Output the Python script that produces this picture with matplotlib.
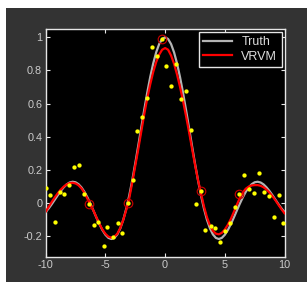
import matplotlib
matplotlib.use("Agg")
import matplotlib.pyplot as plt
from matplotlib.patches import Rectangle

plt.rcParams['font.family'] = ['Liberation Sans', 'DejaVu Sans']
plt.rcParams['axes.unicode_minus'] = False

# grid of curve samples (x from -10 to 10, step 0.25)
curve_x = [-10.0, -9.75, -9.5, -9.25, -9.0, -8.75, -8.5, -8.25, -8.0, -7.75,
           -7.5, -7.25, -7.0, -6.75, -6.5, -6.25, -6.0, -5.75, -5.5, -5.25,
           -5.0, -4.75, -4.5, -4.25, -4.0, -3.75, -3.5, -3.25, -3.0, -2.75,
           -2.5, -2.25, -2.0, -1.75, -1.5, -1.25, -1.0, -0.75, -0.5, -0.25,
           0.0, 0.25, 0.5, 0.75, 1.0, 1.25, 1.5, 1.75, 2.0, 2.25,
           2.5, 2.75, 3.0, 3.25, 3.5, 3.75, 4.0, 4.25, 4.5, 4.75,
           5.0, 5.25, 5.5, 5.75, 6.0, 6.25, 6.5, 6.75, 7.0, 7.25,
           7.5, 7.75, 8.0, 8.25, 8.5, 8.75, 9.0, 9.25, 9.5, 9.75, 10.0]

truth_y = [-0.0544, -0.0328, -0.0079, 0.0188, 0.0458, 0.0714, 0.0939, 0.1119, 0.1237, 0.1283,
           0.1251, 0.1135, 0.0939, 0.0667, 0.0331, -0.0053, -0.0466, -0.0884, -0.1283, -0.1636,
           -0.1918, -0.2104, -0.2172, -0.2106, -0.1892, -0.1524, -0.1002, -0.0333, 0.0470, 0.1388,
           0.2394, 0.3458, 0.4546, 0.5623, 0.6650, 0.7592, 0.8415, 0.9089, 0.9589, 0.9896,
           1.0, 0.9896, 0.9589, 0.9089, 0.8415, 0.7592, 0.6650, 0.5623, 0.4546, 0.3458,
           0.2394, 0.1388, 0.0470, -0.0333, -0.1002, -0.1524, -0.1892, -0.2106, -0.2172, -0.2104,
           -0.1918, -0.1636, -0.1283, -0.0884, -0.0466, -0.0053, 0.0331, 0.0667, 0.0939, 0.1135,
           0.1251, 0.1283, 0.1237, 0.1119, 0.0939, 0.0714, 0.0458, 0.0188, -0.0079, -0.0328, -0.0544]

vrvm_y = [-0.052, -0.023, 0.006, 0.033, 0.058, 0.080, 0.098, 0.112, 0.120, 0.122,
          0.118, 0.107, 0.088, 0.060, 0.025, -0.012, -0.046, -0.087, -0.126, -0.160,
          -0.186, -0.203, -0.209, -0.204, -0.185, -0.150, -0.100, -0.040, 0.030, 0.125,
          0.225, 0.325, 0.430, 0.535, 0.630, 0.715, 0.790, 0.850, 0.895, 0.925,
          0.935, 0.925, 0.890, 0.840, 0.775, 0.700, 0.615, 0.525, 0.430, 0.330,
          0.232, 0.140, 0.060, -0.020, -0.085, -0.135, -0.168, -0.185, -0.189, -0.180,
          -0.160, -0.132, -0.097, -0.055, -0.012, 0.030, 0.062, 0.086, 0.099, 0.106,
          0.108, 0.108, 0.104, 0.095, 0.080, 0.062, 0.040, 0.015, -0.012, -0.038, -0.062]

# noisy training data
data_x = [-9.95, -9.65, -9.26, -8.81, -8.43, -8.03, -7.59, -7.20, -6.80, -6.36,
          -5.97, -5.58, -5.16, -4.85, -4.38, -3.96, -3.57, -3.10, -2.73, -2.34,
          -1.90, -1.51, -1.09, -0.67, -0.25, 0.11, 0.53, 0.92, 1.34, 1.76,
          2.15, 2.59, 2.98, 3.37, 3.82, 4.21, 4.63, 5.02, 5.41, 5.83,
          6.22, 6.64, 7.06, 7.45, 7.89, 8.28, 8.68, 9.10, 9.51, 9.90]
data_y = [0.089, 0.050, -0.116, 0.064, 0.052, 0.108, 0.219, 0.229, 0.052, -0.008,
          -0.133, -0.113, -0.257, -0.142, -0.207, -0.122, -0.183, 0.000, 0.139, 0.436,
          0.518, 0.631, 0.940, 0.890, 0.988, 0.827, 0.703, 0.837, 0.628, 0.675,
          0.442, -0.004, 0.070, -0.161, -0.137, -0.153, -0.233, -0.169, -0.119, -0.024,
          0.054, 0.169, 0.082, 0.060, 0.179, 0.068, 0.044, -0.086, 0.050, -0.120]

# relevance vectors
rv_x = [-6.36, -3.10, -0.25, 2.98, 6.22]
rv_y = [-0.008, 0.000, 0.988, 0.070, 0.054]

xticks = [-10, -5, 0, 5, 10]
xtick_labels = ['-10', '-5', '0', '5', '10']
yticks = [-0.2, 0, 0.2, 0.4, 0.6, 0.8, 1]
ytick_labels = ['-0.2', '0', '0.2', '0.4', '0.6', '0.8', '1']

fig = plt.figure(figsize=(3.07, 2.82), dpi=100, facecolor='white')
bg = Rectangle((0.0195, 0.0), 0.9805, 0.9716, transform=fig.transFigure,
               facecolor='#333333', edgecolor='none', zorder=-10)
fig.patches.append(bg)
ax = fig.add_axes([0.1489, 0.0897, 0.7779, 0.8075])
ax.set_zorder(1)
ax.set_facecolor('black')

ax.plot(curve_x, truth_y, color='#b4b4b4', lw=1.6, label='Truth', zorder=2)
ax.plot(curve_x, vrvm_y, color='#ff0000', lw=1.6, label='VRVM', zorder=3)
ax.plot(data_x, data_y, 'o', color='#ffff00', markersize=3.1, markeredgewidth=0, zorder=4)
ax.plot(rv_x, rv_y, 'o', markerfacecolor='none', markeredgecolor='#cc0000',
        markersize=6.2, markeredgewidth=0.8, zorder=5)

ax.set_xlim(-10, 10)
ax.set_ylim(-0.324, 1.05)
ax.set_xticks(xticks)
ax.set_xticklabels(xtick_labels)
ax.set_yticks(yticks)
ax.set_yticklabels(ytick_labels)

for s in ax.spines.values():
    s.set_color('#e6e6e6')
    s.set_linewidth(1.0)
ax.tick_params(direction='in', top=True, right=True, length=3, width=0.8,
               colors='#e6e6e6', labelcolor='#cccccc', labelsize=7.8, pad=2.5)

leg = ax.legend(loc='upper right', bbox_to_anchor=(0.988, 0.988), borderaxespad=0,
                fancybox=False, facecolor='black', edgecolor='#e6e6e6', framealpha=1,
                fontsize=9, handlelength=2.3, labelcolor='#dddddd',
                borderpad=0.35, labelspacing=0.2, handletextpad=0.75)
leg.get_frame().set_linewidth(1.0)

fig.savefig('out.png', dpi=100, facecolor='white')
